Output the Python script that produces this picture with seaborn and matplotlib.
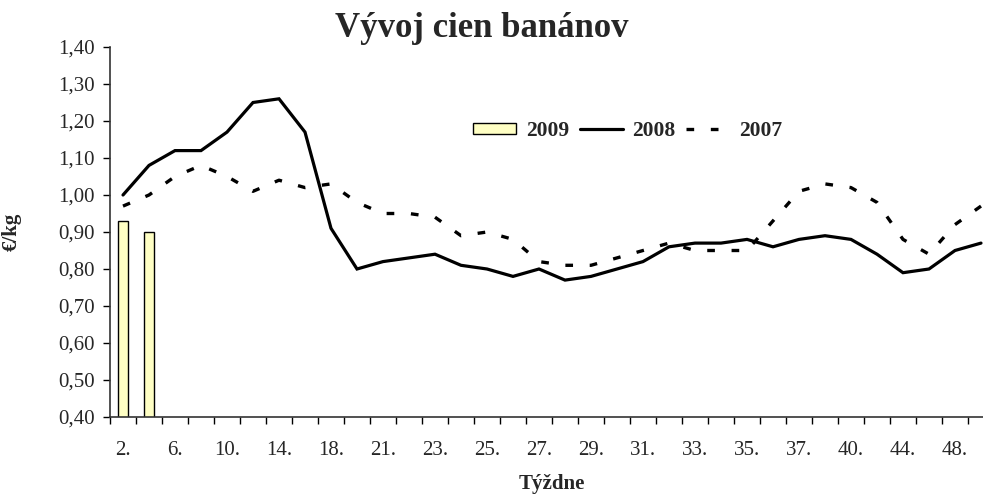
import numpy as np
import pandas as pd
import matplotlib
matplotlib.use("Agg")
import matplotlib.pyplot as plt
import seaborn as sns
from matplotlib.patches import Patch
from matplotlib.lines import Line2D

weeks = ['2.', '4.', '6.', '8.', '10.', '12.', '14.', '16.', '18.', '20.',
         '21.', '22.', '23.', '24.', '25.', '26.', '27.', '28.', '29.', '30.',
         '31.', '32.', '33.', '34.', '35.', '36.', '37.', '38.', '40.', '42.',
         '44.', '46.', '48.', '50.']
weeks_2009 = ['2.', '4.']
prices_2009 = [0.93, 0.90]
prices_2008 = [1.00, 1.08, 1.12, 1.12, 1.17, 1.25, 1.26, 1.17, 0.91, 0.80,
               0.82, 0.83, 0.84, 0.81, 0.80, 0.78, 0.80, 0.77, 0.78, 0.80,
               0.82, 0.86, 0.87, 0.87, 0.88, 0.86, 0.88, 0.89, 0.88, 0.84,
               0.79, 0.80, 0.85, 0.87]
prices_2007 = [0.97, 1.00, 1.05, 1.08, 1.05, 1.01, 1.04, 1.02, 1.03, 0.98,
               0.95, 0.95, 0.94, 0.89, 0.90, 0.88, 0.82, 0.81, 0.81, 0.83,
               0.85, 0.87, 0.85, 0.85, 0.85, 0.93, 1.01, 1.03, 1.02, 0.98,
               0.88, 0.84, 0.92, 0.97]
y_ticks = [0.40, 0.50, 0.60, 0.70, 0.80, 0.90, 1.00, 1.10, 1.20, 1.30, 1.40]
y_labels = ['0,40', '0,50', '0,60', '0,70', '0,80', '0,90', '1,00', '1,10',
            '1,20', '1,30', '1,40']

sns.set_style("white")
plt.rcParams['font.family'] = ['Liberation Serif', 'DejaVu Serif']

BAR_COLOR = '#FFFFC4'
DASH = (0, (2.3, 5.0))

fig = plt.figure(figsize=(9.83, 4.94), dpi=100)
n = len(weeks)
# plot area: left 110px, bottom 417px, top 47px, 26px per category (extends past right edge)
ax = fig.add_axes([110 / 983, (494 - 417) / 494, 26 * n / 983, 370 / 494])

df_bar = pd.DataFrame({'week': weeks_2009, 'price': prices_2009})
sns.barplot(data=df_bar, x='week', y='price', order=weeks, color=BAR_COLOR,
            saturation=1, edgecolor='black', linewidth=1.0, width=0.38, ax=ax)

idx = np.arange(n)
sns.lineplot(x=idx, y=prices_2008, color='black', linewidth=2.3, ax=ax,
             solid_joinstyle='miter')
sns.lineplot(x=idx, y=prices_2007, color='black', linewidth=2.4, ax=ax,
             linestyle=DASH, dash_capstyle='butt')

ax.set_xlim(-0.5, n - 0.5)
ax.set_ylim(0.40, 1.40)
ax.set_yticks(y_ticks)
ax.set_yticklabels(y_labels)
ax.set_xticks(idx[::2])
ax.set_xticklabels(weeks[::2])
ax.set_xticks(np.arange(-0.5, n, 1), minor=True)
ax.tick_params(axis='x', which='major', length=0, pad=17, labelsize=15)
ax.tick_params(axis='x', which='minor', length=5, width=1, color='black',
               direction='out', bottom=True)
ax.tick_params(axis='y', which='major', length=5, width=1, color='black',
               direction='out', left=True, pad=6, labelsize=15)

for s in ['top', 'right']:
    ax.spines[s].set_visible(False)
for s in ['left', 'bottom']:
    ax.spines[s].set_color('#333333')
    ax.spines[s].set_linewidth(1.2)

ax.set_xlabel('Týždne', fontsize=15, fontweight='bold', labelpad=10)
ax.set_ylabel('€/kg', fontsize=15, fontweight='bold', labelpad=26,
              family=['Liberation Serif', 'DejaVu Sans'])

fig.text(0.49, 1 - 37 / 494, 'Vývoj cien banánov', ha='center', va='baseline',
         fontsize=25, fontweight='bold')

handles = [
    Patch(facecolor=BAR_COLOR, edgecolor='black', linewidth=1.0),
    Line2D([0], [0], color='black', linewidth=2.3),
    Line2D([0], [0], color='black', linewidth=2.4, linestyle=DASH,
           dash_capstyle='butt'),
]
leg = ax.legend(handles, ['2009', '2008', '2007'], ncol=3, frameon=False,
                loc='center left', bbox_to_anchor=(473 / 983, 1 - 131 / 494),
                bbox_transform=fig.transFigure, borderpad=0, borderaxespad=0,
                handlelength=2.0, handleheight=0.45, handletextpad=0.45,
                columnspacing=0.5, prop={'size': 15.5, 'weight': 'bold'})

fig.savefig('out.png', dpi=100)
